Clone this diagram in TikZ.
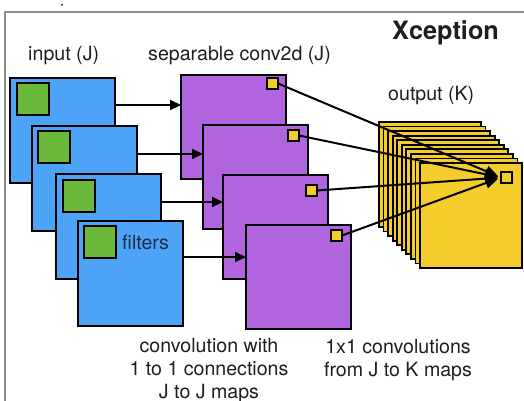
\documentclass[tikz,border=0pt]{standalone}
\usepackage{fontspec}
\setmainfont{TeX Gyre Heros}
\usetikzlibrary{arrows.meta}
\definecolor{cblue}{HTML}{4DA3F5}
\definecolor{cpurple}{HTML}{B064DE}
\definecolor{cgreen}{HTML}{6AB83A}
\definecolor{cyellow}{HTML}{F4CC2C}
\definecolor{ctext}{HTML}{1E1E1E}
\definecolor{cnavy}{HTML}{1D2B4A}
\definecolor{cframe}{HTML}{8E8E8E}
\tikzset{
  sheet/.style={draw=black, line width=2pt, inner sep=0pt, outer sep=0pt, anchor=north west,
    minimum width=105pt, minimum height=105pt},
  insheet/.style={sheet, fill=cblue},
  convsheet/.style={sheet, fill=cpurple, minimum height=104pt},
  outsheet/.style={sheet, fill=cyellow, line width=1.8pt, minimum width=102pt},
  gsq/.style={draw=black, line width=2pt, fill=cgreen, inner sep=0pt, outer sep=0pt,
    anchor=north west, minimum size=32pt},
  ysq/.style={draw=black, line width=1.8pt, fill=cyellow, inner sep=0pt, outer sep=0pt,
    anchor=north west, minimum size=11pt},
  lbl/.style={inner sep=0pt, text=ctext, font=\fontsize{19.6}{23}\selectfont},
  arr/.style={line width=2pt, -{Triangle[length=11pt,width=10pt]}},
  karr/.style={line width=2pt, -{Triangle[length=13pt,width=11pt]}, shorten >=3pt},
}
\begin{document}
\begin{tikzpicture}[x=1pt,y=-1pt]
\useasboundingbox (0,0) rectangle (524,401);
% frame
\draw[cframe, line width=1.5pt] (5,401) -- (5,12) -- (524,12);
\fill[black] (62,5) circle (1pt);
% titles
\node[lbl, anchor=base west] (tin) at (28,61) {input (J)};
\node[lbl, anchor=base west] (tsep) at (148,61) {separable conv2d (J)};
\node[lbl, anchor=base west, font=\fontsize{25.3}{28}\selectfont\bfseries] (tx) at (392,40) {Xception};
\node[lbl, anchor=base west] (tout) at (388,100) {output (K)};
% input sheets
\node[insheet] (B1) at (10,78) {};
\node[gsq] (G1) at (17,83) {};
\node[insheet] (B2) at (32,126) {};
\node[gsq] (G2) at (38,131) {};
\node[insheet] (B3) at (56,174) {};
\node[gsq] (G3) at (63,180) {};
\node[insheet] (B4) at (78,221) {};
\node[gsq] (G4) at (84,226) {};
\node[lbl, anchor=base west, text=cnavy] (tfil) at (122,249) {filters};
% depthwise conv sheets
\node[convsheet] (P1) at (181,75) {};
\node[ysq] (Y1) at (267,78) {};
\node[convsheet] (P2) at (203,125) {};
\node[ysq] (Y2) at (288,130) {};
\node[convsheet] (P3) at (223,175) {};
\node[ysq] (Y3) at (306,185) {};
\node[convsheet] (P4) at (246,225) {};
\node[ysq] (Y4) at (331,230) {};
% output stack
\foreach \i in {0,...,9}{
  \node[outsheet] (K\i) at ({379+\i*4.556},{122+\i*4.556}) {};
}
\node[ysq] (OS) at (501,172) {};
% input -> conv arrows
\coordinate (a1) at ([yshift=-27pt]B1.north east);
\coordinate (a2) at ([yshift=-28pt]B2.north east);
\coordinate (a3) at ([yshift=-28pt]B3.north east);
\coordinate (a4) at ([yshift=-36pt]B4.north east);
\draw[arr] (a1) -- (a1 -| P1.west);
\draw[arr] (a2) -- (a2 -| P2.west);
\draw[arr] (a3) -- (a3 -| P3.west);
\draw[arr] (a4) -- (a4 -| P4.west);
% 1x1 arrows
\draw[karr] (Y1.east) -- (OS.west);
\draw[karr] (Y2.east) -- (OS.west);
\draw[karr] (Y3.east) -- (OS.west);
\draw[karr] (Y4.east) -- (OS.west);
% captions (base anchor = baseline of last line)
\node[lbl, anchor=base, align=center] (c1) at (209,398) {convolution with\\1 to 1 connections\\J to J maps};
\node[lbl, anchor=base, align=center] (c2) at (398,376) {1x1 convolutions\\from J to K maps};
\end{tikzpicture}
\end{document}
